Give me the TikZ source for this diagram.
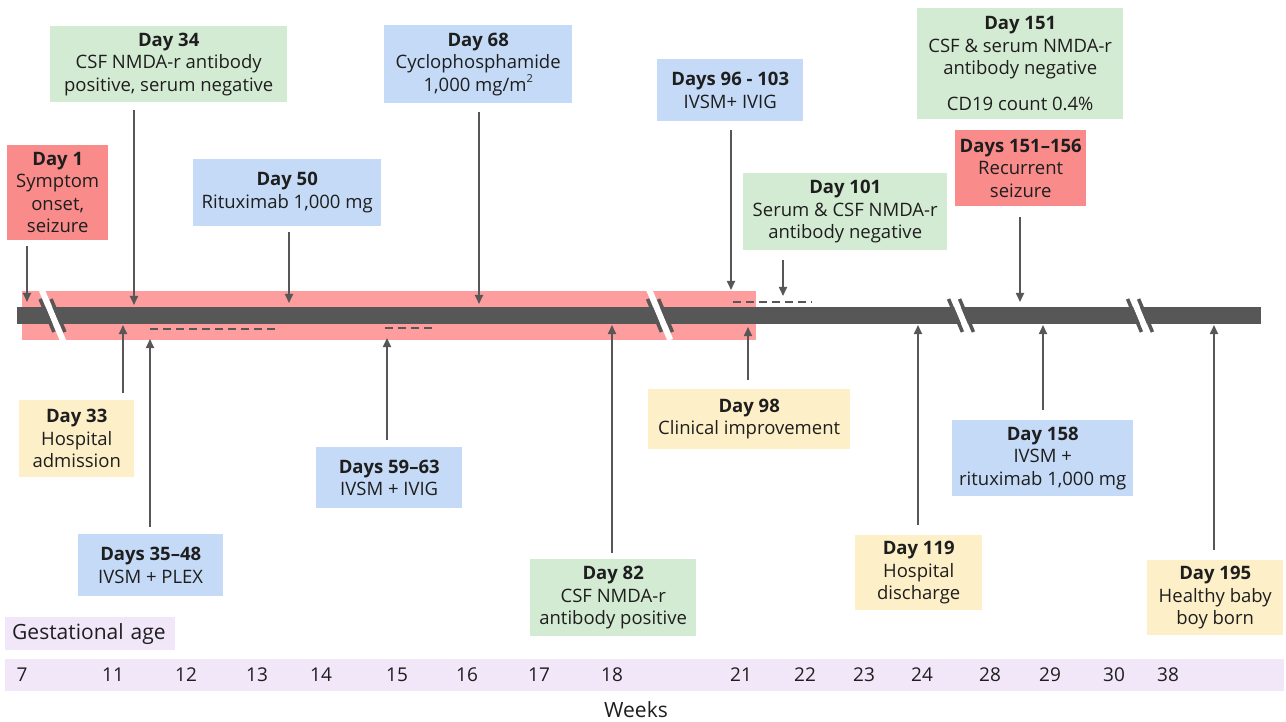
\documentclass[tikz,border=0pt]{standalone}
\usepackage{fontspec}
\setmainfont{Open Sans}
\usetikzlibrary{arrows.meta}
\definecolor{cred}{HTML}{F98B8B}
\definecolor{cband}{HTML}{FD9D9D}
\definecolor{cgreen}{HTML}{D4EBD3}
\definecolor{cblue}{HTML}{C4DAF6}
\definecolor{cyellow}{HTML}{FDEFC8}
\definecolor{cpurple}{HTML}{F2E6F9}
\definecolor{cbar}{HTML}{575757}
\definecolor{ctxt}{HTML}{1E1E1E}
\begin{document}
\begin{tikzpicture}[x=1pt,y=-1pt,
  box/.style={anchor=north west, inner sep=0pt, align=center, text=ctxt,
    font=\fontsize{18.5}{22.5}\selectfont},
  arr/.style={draw=cbar, line width=1.7pt, -{Triangle[length=9pt,width=8pt]}},
  dsh/.style={draw=cbar, line width=2.3pt, dash pattern=on 8pt off 5pt},
  num/.style={text=ctxt, font=\fontsize{19}{22}\selectfont, inner sep=0pt},
  slash/.style={draw=cbar, line width=3.5pt},
  gap/.style={draw=white, line width=6pt}]
\useasboundingbox (0,0) rectangle (1286,722);

% red band and timeline bar
\fill[cband] (22,291) rectangle (756,340);
\fill[cbar] (17,307) rectangle (1261,324);

% dashed lines
\draw[dsh] (150,329) -- (278,329);
\draw[dsh] (385,328) -- (432,328);
\draw[dsh] (733,302) -- (812,302);

% breaks
\foreach \cx/\ya/\yb in {52.5/290/342, 660/288/340, 961/298/331, 1140/298/331}{
  \draw[gap] ({\cx+(\ya-315.5)*0.42},\ya) -- ({\cx+(\yb-315.5)*0.42},\yb);
  \draw[slash] ({\cx-5.5+(299-315.5)*0.42},299) -- ({\cx-5.5+(332-315.5)*0.42},332);
  \draw[slash] ({\cx+5.5+(299-315.5)*0.42},299) -- ({\cx+5.5+(332-315.5)*0.42},332);
}

% boxes above
\node[box, fill=cred, minimum width=101pt, minimum height=95pt] (d1) at (7,145)
  {\textbf{Day 1}\\Symptom\\onset,\\seizure};
\node[box, fill=cgreen, minimum width=237pt, minimum height=76pt] (d34) at (50,26)
  {\textbf{Day 34}\\CSF NMDA-r antibody\\positive, serum negative};
\node[box, fill=cblue, minimum width=188pt, minimum height=67pt] (d50) at (193,159)
  {\textbf{Day 50}\\Rituximab 1,000 mg};
\node[box, fill=cblue, minimum width=188pt, minimum height=78pt] (d68) at (384,25)
  {\textbf{Day 68}\\Cyclophosphamide\\1,000 mg/m\raisebox{0.45em}{\fontsize{11}{11}\selectfont 2}};
\node[box, fill=cblue, minimum width=146pt, minimum height=62pt] (d96) at (657,59)
  {\textbf{Days 96 - 103}\\IVSM+ IVIG};
\node[box, fill=cgreen, minimum width=204pt, minimum height=77pt] (d101) at (743,173)
  {\textbf{Day 101}\\Serum \& CSF NMDA-r\\antibody negative};
\node[box, fill=cgreen, minimum width=206pt, minimum height=111pt] (d151) at (917,8)
  {\textbf{Day 151}\\CSF \& serum NMDA-r\\antibody negative\\[13pt]CD19 count 0.4\%};
\node[box, fill=cred, minimum width=131pt, minimum height=76pt] (d156) at (955,130)
  {\textbf{Days 151--156}\\Recurrent\\seizure};

% boxes below
\node[box, fill=cyellow, minimum width=115pt, minimum height=77pt] (d33) at (19,400)
  {\textbf{Day 33}\\Hospital\\admission};
\node[box, fill=cblue, minimum width=145pt, minimum height=62pt] (d35) at (78,534)
  {\textbf{Days 35--48}\\IVSM + PLEX};
\node[box, fill=cblue, minimum width=146pt, minimum height=61pt] (d59) at (316,447)
  {\textbf{Days 59--63}\\IVSM + IVIG};
\node[box, fill=cgreen, minimum width=166pt, minimum height=77pt] (d82) at (530,559)
  {\textbf{Day 82}\\CSF NMDA-r\\antibody positive};
\node[box, fill=cyellow, minimum width=202pt, minimum height=60pt] (d98) at (648,389)
  {\textbf{Day 98}\\Clinical improvement};
\node[box, fill=cyellow, minimum width=127pt, minimum height=75pt] (d119) at (855,535)
  {\textbf{Day 119}\\Hospital\\discharge};
\node[box, fill=cblue, minimum width=181pt, minimum height=76pt] (d158) at (952,420)
  {\textbf{Day 158}\\IVSM +\\rituximab 1,000 mg};
\node[box, fill=cyellow, minimum width=136pt, minimum height=75pt] (d195) at (1147,560)
  {\textbf{Day 195}\\Healthy baby\\boy born};

% arrow targets
\coordinate (e1) at (27,302);
\coordinate (e34) at (134,305);
\coordinate (e50) at (289,303);
\coordinate (e68) at (479,304);
\coordinate (e96) at (731,290);
\coordinate (e101) at (783,296);
\coordinate (e156) at (1020,302);
\coordinate (e33) at (123,325);
\coordinate (e35) at (150,339);
\coordinate (e59) at (387,338);
\coordinate (e82) at (612,325);
\coordinate (e98) at (748,327);
\coordinate (e119) at (918,325);
\coordinate (e158) at (1043,325);
\coordinate (e195) at (1214,325);

\draw[arr, shorten <=6pt] (d1.south -| e1) -- (e1);
\draw[arr, shorten <=8pt] (d34.south -| e34) -- (e34);
\draw[arr, shorten <=6pt] (d50.south -| e50) -- (e50);
\draw[arr, shorten <=9pt] (d68.south -| e68) -- (e68);
\draw[arr, shorten <=9pt] (d96.south -| e96) -- (e96);
\draw[arr, shorten <=10pt] (d101.south -| e101) -- (e101);
\draw[arr, shorten <=11pt] (d156.south -| e156) -- (e156);
\draw[arr, shorten <=7pt] (d33.north -| e33) -- (e33);
\draw[arr, shorten <=7pt] (d35.north -| e35) -- (e35);
\draw[arr, shorten <=7pt] (d59.north -| e59) -- (e59);
\draw[arr, shorten <=6pt] (d82.north -| e82) -- (e82);
\draw[arr, shorten <=9pt] (d98.north -| e98) -- (e98);
\draw[arr, shorten <=10pt] (d119.north -| e119) -- (e119);
\draw[arr, shorten <=10pt] (d158.north -| e158) -- (e158);
\draw[arr, shorten <=10pt] (d195.north -| e195) -- (e195);

% gestational age axis
\node[anchor=north west, fill=cpurple, minimum width=170pt, minimum height=33pt,
  inner xsep=7pt, inner ysep=0pt, text width=156pt, align=left, text=ctxt,
  font=\fontsize{21}{24}\selectfont] (ga) at (5,617) {Gestational age};
\node[anchor=north west, fill=cpurple, minimum width=1279pt, minimum height=32pt,
  inner sep=0pt] (axis) at (5,659) {};
\foreach \w/\xx in {7/22, 11/113, 12/186, 13/257, 14/321, 15/397, 16/467, 17/539,
  18/612, 21/741, 22/805, 23/864, 24/922, 28/990, 29/1050, 30/1114, 38/1168}{
  \node[num] (w\w) at (\xx,675) {\w};
}
\node[text=ctxt, font=\fontsize{21}{24}\selectfont, inner sep=0pt] (weeks) at (636,710) {Weeks};
\end{tikzpicture}
\end{document}
